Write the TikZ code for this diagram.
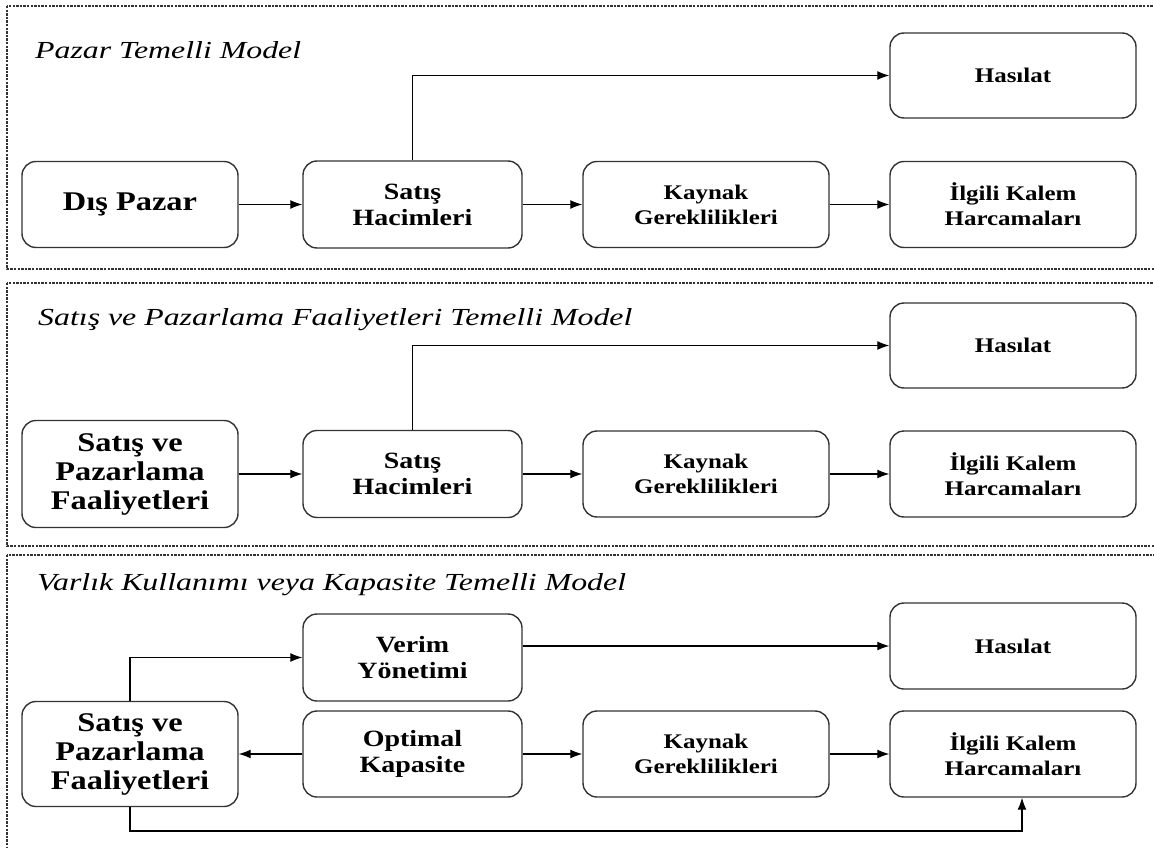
\documentclass[tikz,border=0pt]{standalone}
\usepackage{fontspec}
\setmainfont{Liberation Serif}[FakeStretch=1.2]
\newfontfamily\titlefont{Liberation Serif}[FakeStretch=1.3]
\usetikzlibrary{arrows.meta}

\begin{document}
\begin{tikzpicture}[x=1pt,y=-1pt,
  box/.style={draw=black!80, line width=1.4pt, rounded corners=14pt, align=center, inner sep=0pt},
  leftbox/.style={box, minimum width=216pt, font=\fontsize{27}{29}\selectfont\bfseries},
  midbox/.style={box, minimum width=219pt, minimum height=87pt, font=\fontsize{23.3}{26}\selectfont\bfseries},
  rightbox/.style={box, minimum width=246pt, minimum height=86pt, font=\fontsize{20.8}{25}\selectfont\bfseries},
  arr/.style={-{Latex[length=12pt,width=9pt]}, line width=1.2pt},
  frame/.style={draw=black!80, line width=1.1pt, dash pattern=on 2.4pt off 1.2pt},
  modeltitle/.style={anchor=base west, inner sep=0pt, font=\titlefont\itshape\fontsize{24.5}{28}\selectfont}]
\useasboundingbox (0,0) rectangle (1154,848);
% frames
\draw[frame] (7,6) rectangle (1170,269);
\draw[frame] (7,283) rectangle (1170,546);
\draw[frame] (7,555) rectangle (1170,870);
% pazar temelli model
\node[modeltitle] (t1) at (35,59) {Pazar Temelli Model};
\node[leftbox, minimum height=86pt] (dis1) at (130,204.5) {Dış Pazar};
\node[midbox] (sh1) at (412.5,204.5) {Satış\\Hacimleri};
\node[rightbox] (kay1) at (706,204.5) {Kaynak\\Gereklilikleri};
\node[rightbox] (ilg1) at (1013,204.5) {İlgili Kalem\\Harcamaları};
\node[rightbox, minimum height=85pt] (has1) at (1013,75.5) {Hasılat};
\draw[arr] (dis1) -- (sh1);
\draw[arr] (sh1) -- (kay1);
\draw[arr] (kay1) -- (ilg1);
\draw[arr] (sh1.north) |- (has1.west);
% satis ve pazarlama faaliyetleri temelli model
\node[modeltitle] (t2) at (38,325) {Satış ve Pazarlama Faaliyetleri Temelli Model};
\node[leftbox, minimum height=107pt] (sp2) at (130,474) {Satış ve\\Pazarlama\\Faaliyetleri};
\node[midbox] (sh2) at (412.5,474) {Satış\\Hacimleri};
\node[rightbox] (kay2) at (706,474) {Kaynak\\Gereklilikleri};
\node[rightbox] (ilg2) at (1013,474) {İlgili Kalem\\Harcamaları};
\node[rightbox, minimum height=85pt] (has2) at (1013,345.5) {Hasılat};
\draw[arr] (sp2) -- (sh2);
\draw[arr] (sh2) -- (kay2);
\draw[arr] (kay2) -- (ilg2);
\draw[arr] (sh2.north) |- (has2.west);
% varlik kullanimi veya kapasite temelli model
\node[modeltitle] (t3) at (37,590) {Varlık Kullanımı veya Kapasite Temelli Model};
\node[leftbox, minimum height=105pt] (sp3) at (130,754) {Satış ve\\Pazarlama\\Faaliyetleri};
\node[midbox] (ver) at (412.5,657.5) {Verim\\Yönetimi};
\node[midbox, minimum height=86pt] (opt) at (412.5,754) {Optimal\\Kapasite};
\node[rightbox] (kay3) at (706,754) {Kaynak\\Gereklilikleri};
\node[rightbox] (ilg3) at (1013,754) {İlgili Kalem\\Harcamaları};
\node[rightbox] (has3) at (1013,646) {Hasılat};
\coordinate (bend) at (0,831);
\draw[arr] (sp3.north) |- (ver.west);
\draw[arr] (ver.east |- has3.west) -- (has3.west);
\draw[arr] (opt) -- (sp3);
\draw[arr] (opt) -- (kay3);
\draw[arr] (kay3) -- (ilg3);
\draw[arr] (sp3.south) -- (sp3.south |- bend) -| ([xshift=9pt]ilg3.south);
\end{tikzpicture}
\end{document}
